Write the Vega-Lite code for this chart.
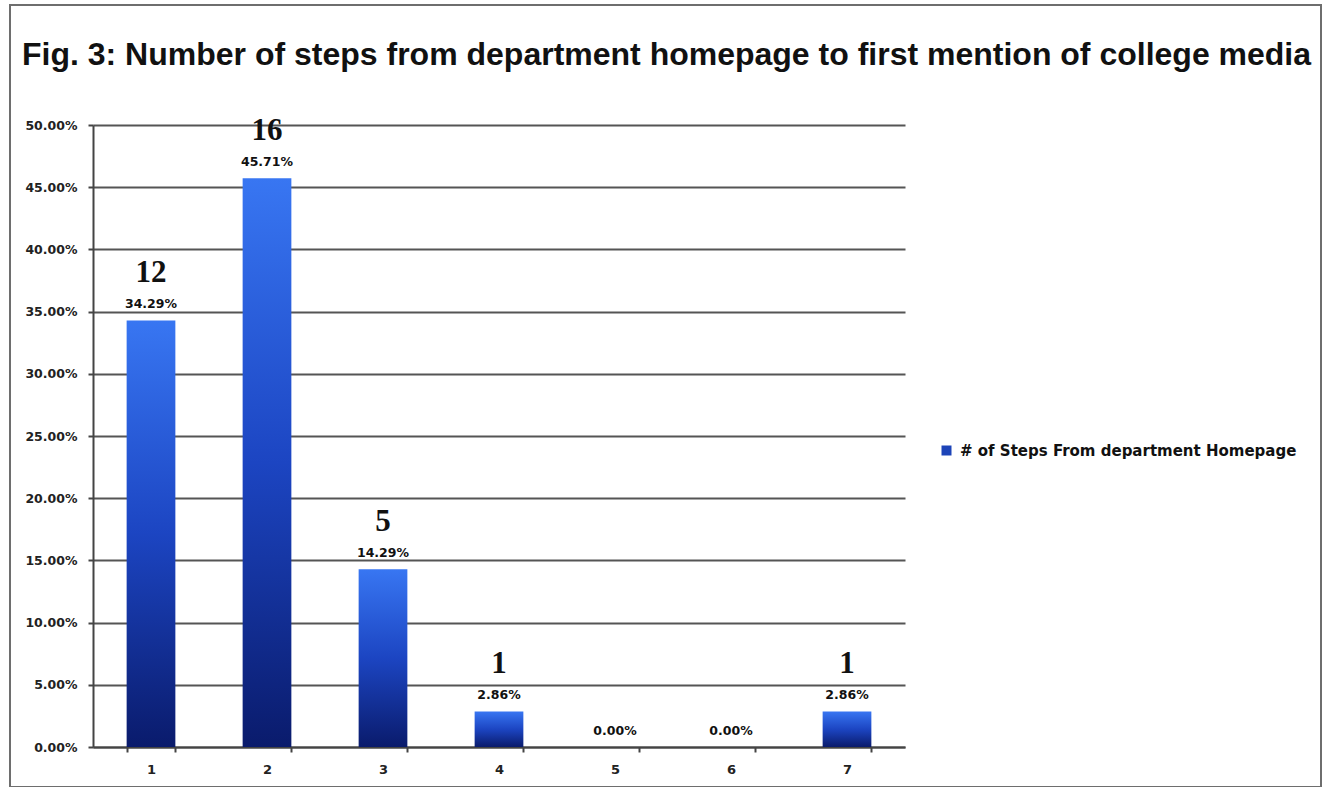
{
  "$schema": "https://vega.github.io/schema/vega-lite/v6.json",
  "width": 1311,
  "height": 782,
  "autosize": {"type": "none"},
  "padding": {"left": 10, "top": 5, "right": 2, "bottom": 0},
  "background": "white",
  "title": {
    "text": "Fig. 3: Number of steps from department homepage to first mention of college media",
    "anchor": "start",
    "frame": "group",
    "orient": "top",
    "offset": -92,
    "dx": 12,
    "baseline": "alphabetic",
    "font": "Liberation Sans",
    "fontSize": 32,
    "fontWeight": "bold",
    "color": "#111111"
  },
  "data": {
    "values": [
      {"step": 1, "pct": 0.3429, "count": 12},
      {"step": 2, "pct": 0.4571, "count": 16},
      {"step": 3, "pct": 0.1429, "count": 5},
      {"step": 4, "pct": 0.0286, "count": 1},
      {"step": 5, "pct": 0.0, "count": 0},
      {"step": 6, "pct": 0.0, "count": 0},
      {"step": 7, "pct": 0.0286, "count": 1}
    ]
  },
  "encoding": {
    "x": {
      "field": "step",
      "type": "ordinal",
      "scale": {"range": [83, 895], "paddingInner": 0.58, "paddingOuter": 0.29},
      "axis": {
        "title": null,
        "labelAngle": 0,
        "offset": -40,
        "tickBand": "extent",
        "tickSize": 5,
        "tickColor": "#444444",
        "tickWidth": 2,
        "domainColor": "#444444",
        "domainWidth": 2,
        "labelFont": "DejaVu Sans",
        "labelFontWeight": "bold",
        "labelFontSize": 13,
        "labelColor": "#222222",
        "labelPadding": 11,
        "grid": false
      }
    },
    "y": {
      "field": "pct",
      "type": "quantitative",
      "scale": {"domain": [0, 0.5], "range": [742, 120], "nice": false},
      "axis": {
        "title": null,
        "offset": -83,
        "values": [0, 0.05, 0.1, 0.15, 0.2, 0.25, 0.3, 0.35, 0.4, 0.45, 0.5],
        "format": ".2%",
        "grid": true,
        "gridColor": "#555555",
        "gridWidth": 2,
        "domainColor": "#444444",
        "domainWidth": 2,
        "tickColor": "#444444",
        "tickWidth": 2,
        "tickSize": 5,
        "labelFont": "DejaVu Sans",
        "labelFontWeight": "bold",
        "labelFontSize": 12.5,
        "labelColor": "#222222",
        "labelPadding": 11
      }
    }
  },
  "layer": [
    {
      "mark": {
        "type": "bar",
        "color": {
          "gradient": "linear",
          "x1": 0, "y1": 0, "x2": 0, "y2": 1,
          "stops": [
            {"offset": 0, "color": "#3876f2"},
            {"offset": 0.5, "color": "#1c45c2"},
            {"offset": 1, "color": "#0a1b6c"}
          ]
        }
      }
    },
    {
      "mark": {
        "type": "text",
        "font": "DejaVu Sans",
        "fontWeight": "bold",
        "fontSize": 12.5,
        "baseline": "alphabetic",
        "dy": -12,
        "color": "#111111"
      },
      "encoding": {
        "text": {"field": "pct", "type": "quantitative", "format": ".2%"}
      }
    },
    {
      "transform": [{"filter": "datum.count > 0"}],
      "mark": {
        "type": "text",
        "font": "Liberation Serif",
        "fontWeight": "bold",
        "fontSize": 31,
        "baseline": "alphabetic",
        "dy": -38,
        "color": "#111111"
      },
      "encoding": {
        "text": {"field": "count", "type": "quantitative"}
      }
    },
    {
      "mark": {"type": "square", "size": 0, "opacity": 0},
      "encoding": {
        "color": {
          "datum": "# of Steps From department Homepage",
          "type": "nominal",
          "scale": {"range": ["#1d44b8"]},
          "legend": {
            "title": null,
            "orient": "none",
            "legendX": 929,
            "legendY": 438,
            "symbolType": "square",
            "symbolSize": 100,
            "symbolOpacity": 1,
            "symbolStrokeWidth": 0,
            "labelFont": "DejaVu Sans",
            "labelFontWeight": "bold",
            "labelFontSize": 15,
            "labelColor": "#111111",
            "labelOffset": 6,
            "labelLimit": 0,
            "padding": 0
          }
        }
      }
    }
  ],
  "config": {
    "view": {"stroke": "#6e6e6e", "strokeWidth": 2, "fill": "white"}
  }
}
